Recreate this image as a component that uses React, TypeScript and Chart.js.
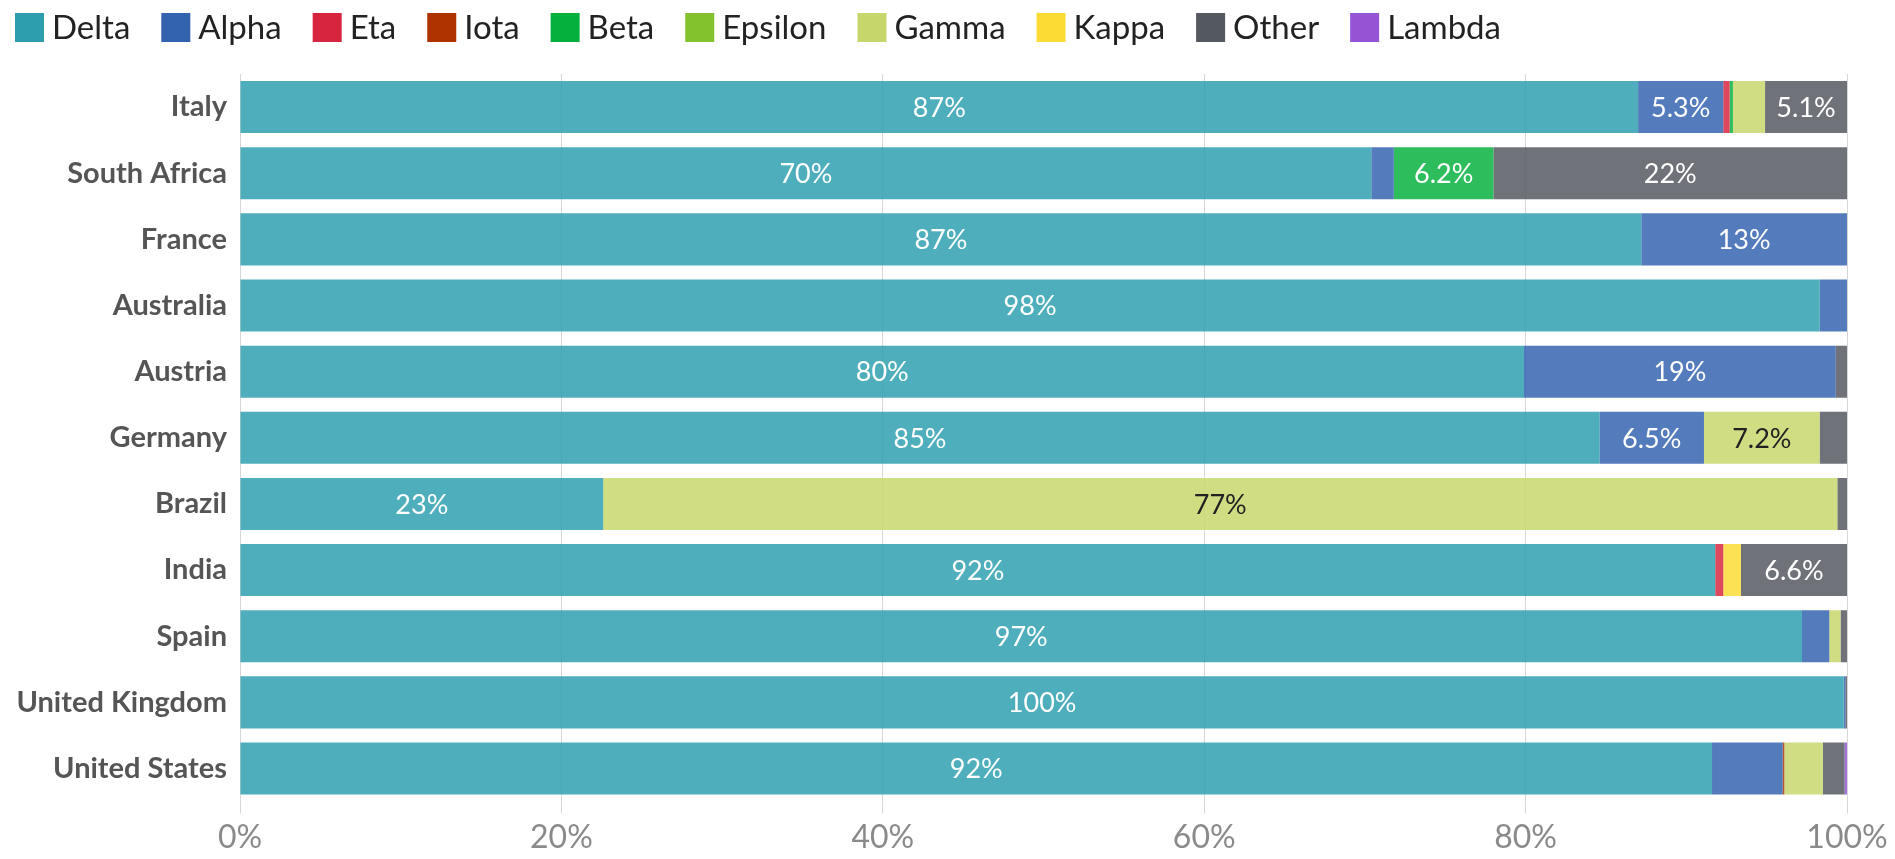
import React, { useEffect, useRef } from "react";
import { Chart, registerables } from "chart.js";

Chart.register(...registerables);

const countries = [
  "Italy",
  "South Africa",
  "France",
  "Australia",
  "Austria",
  "Germany",
  "Brazil",
  "India",
  "Spain",
  "United Kingdom",
  "United States",
];

const variantNames = ["Delta", "Alpha", "Eta", "Iota", "Beta", "Epsilon", "Gamma", "Kappa", "Other", "Lambda"];

const variantColors = [
  "#2c9eae",
  "#3362ae",
  "#d8253f",
  "#ae3301",
  "#05b03d",
  "#84c22d",
  "#c7d66b",
  "#fcdb34",
  "#54585f",
  "#9454d4",
];

// Share (%) per country, in the order of `countries`
const delta = [87.0, 70.4, 87.2, 98.3, 79.9, 84.6, 22.6, 91.8, 97.2, 99.8, 91.6];
const alpha = [5.3, 1.4, 12.8, 1.7, 19.4, 6.5, 0, 0, 1.7, 0.1, 4.4];
const eta = [0.4, 0, 0, 0, 0, 0, 0, 0.5, 0, 0, 0];
const iota = [0, 0, 0, 0, 0, 0, 0, 0, 0, 0, 0.1];
const beta = [0.2, 6.2, 0, 0, 0, 0, 0, 0, 0, 0, 0];
const epsilon = [0, 0, 0, 0, 0, 0, 0, 0, 0, 0, 0];
const gamma = [2.0, 0, 0, 0, 0, 7.2, 76.8, 0, 0.7, 0, 2.4];
const kappa = [0, 0, 0, 0, 0, 0, 0, 1.1, 0, 0, 0];
const other = [5.1, 22.0, 0, 0, 0.7, 1.7, 0.6, 6.6, 0.4, 0.1, 1.35];
const lambda = [0, 0, 0, 0, 0, 0, 0, 0, 0, 0, 0.15];

const seriesValues = [delta, alpha, eta, iota, beta, epsilon, gamma, kappa, other, lambda];

const xTicks = [0, 20, 40, 60, 80, 100];

const FONT = "Lato, 'Noto Sans', sans-serif";

function hexToRgba(hex: string, a: number) {
  const n = parseInt(hex.slice(1), 16);
  return `rgba(${(n >> 16) & 255}, ${(n >> 8) & 255}, ${n & 255}, ${a})`;
}

function fmt(v: number) {
  return v >= 10 ? `${Math.round(v)}%` : `${v.toFixed(1)}%`;
}

const labelPlugin = {
  id: "segLabels",
  afterDatasetsDraw(chart: any) {
    const ctx = chart.ctx;
    ctx.save();
    ctx.font = `27px ${FONT}`;
    ctx.textAlign = "center";
    ctx.textBaseline = "middle";
    chart.data.datasets.forEach((ds: any, di: number) => {
      const meta = chart.getDatasetMeta(di);
      meta.data.forEach((el: any, i: number) => {
        const v = ds.data[i];
        if (v < 5) return;
        const cx = (el.x + el.base) / 2;
        ctx.fillStyle = variantNames[di] === "Gamma" ? "#222222" : "#ffffff";
        ctx.fillText(fmt(v), cx, el.y + 1);
      });
    });
    ctx.restore();
  },
};

// Legend drawn on the chart canvas, laid out like the reference (box, small gap, label)
const legendPlugin = {
  id: "topLegend",
  afterDraw(chart: any) {
    const ctx = chart.ctx;
    ctx.save();
    ctx.font = `33px ${FONT}`;
    ctx.textBaseline = "middle";
    ctx.textAlign = "left";
    const box = 29;
    const top = 13;
    let x = 15;
    chart.data.datasets.forEach((ds: any, i: number) => {
      ctx.fillStyle = variantColors[i];
      ctx.fillRect(x, top, box, box);
      ctx.fillStyle = "#222222";
      const tx = x + box + 8;
      ctx.fillText(ds.label, tx, top + box / 2 + 1);
      x = tx + ctx.measureText(ds.label).width + 31;
    });
    ctx.restore();
  },
};

export default function App() {
  const ref = useRef<HTMLCanvasElement | null>(null);

  useEffect(() => {
    if (!ref.current) return;
    const chart = new Chart(ref.current, {
      type: "bar",
      data: {
        labels: countries,
        datasets: variantNames.map((name, i) => ({
          label: name,
          data: seriesValues[i],
          backgroundColor: hexToRgba(variantColors[i], 0.84),
          borderWidth: 0,
          barPercentage: 0.787,
          categoryPercentage: 1,
        })),
      },
      options: {
        indexAxis: "y",
        responsive: false,
        animation: false,
        layout: { padding: { left: 0, right: 48, top: 74, bottom: -3 } },
        plugins: {
          legend: { display: false },
          tooltip: { enabled: false },
        },
        scales: {
          x: {
            type: "linear",
            stacked: true,
            min: 0,
            max: 100,
            afterBuildTicks: (scale: any) => {
              scale.ticks = xTicks.map((v) => ({ value: v }));
            },
            ticks: {
              callback: (v: any) => `${v}%`,
              color: "#8a8a8a",
              font: { family: FONT, size: 32 },
              padding: 5,
              maxRotation: 0,
            },
            grid: {
              color: "#d6d6d6",
              lineWidth: 1,
              tickLength: 12,
              tickColor: "#d6d6d6",
              borderDash: [4, 4],
              tickBorderDash: [],
            } as any,
            border: { display: false },
          },
          y: {
            stacked: true,
            afterFit: (scale: any) => {
              scale.width = 240;
              scale.paddingTop = 0;
              scale.paddingBottom = 0;
            },
            ticks: {
              color: "#555555",
              font: { family: FONT, size: 29, weight: "bold" },
              padding: 13,
            },
            grid: { display: false, drawTicks: false },
            border: { display: false },
          },
        },
      },
      plugins: [labelPlugin, legendPlugin],
    });
    return () => chart.destroy();
  }, []);

  return (
    <div style={{ position: "fixed", left: 0, top: 0, width: 1895, height: 859, background: "#ffffff" }}>
      <canvas ref={ref} width={1895} height={859} style={{ display: "block" }} />
    </div>
  );
}
